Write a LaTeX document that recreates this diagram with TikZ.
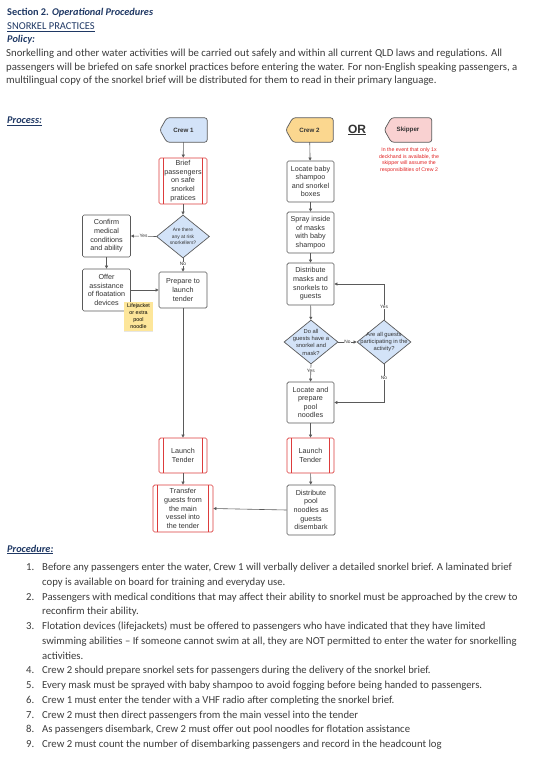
\documentclass[tikz,border=0pt]{standalone}
\usepackage{fontspec}
\setmainfont{Carlito}
\setsansfont{Liberation Sans}
\usetikzlibrary{arrows.meta, shapes.geometric, shadows, backgrounds}

\definecolor{navy}{HTML}{1F3864}
\definecolor{bodygray}{HTML}{3B3B3B}
\definecolor{boxgray}{HTML}{5A5A5A}
\definecolor{boxtext}{HTML}{333333}
\definecolor{procred}{HTML}{DC3C3C}
\definecolor{decblue}{HTML}{D3E3F8}
\definecolor{crewblue}{HTML}{D3E3F8}
\definecolor{crewgold}{HTML}{FBD78F}
\definecolor{skippink}{HTML}{F9D1D1}
\definecolor{stickyyellow}{HTML}{FDE69A}
\definecolor{notered}{HTML}{E02020}

\begin{document}
\begin{tikzpicture}[x=1pt, y=-1pt,
		bodytext/.style={inner sep=0pt, text=bodygray, font=\fontsize{10.7}{13.5}\selectfont},
		heading/.style={inner sep=0pt, text=navy, font=\bfseries\fontsize{10.3}{12}\selectfont},
		box/.style={draw=boxgray, line width=0.7pt, rounded corners=1.5pt, fill=white,
			minimum width=47pt, minimum height=41pt, inner sep=0pt, align=center,
			text=boxtext, font=\sffamily\fontsize{7.2}{8.6}\selectfont},
		procbox/.style={box, draw=procred, path picture={
				\draw[procred, line width=0.7pt]
				([xshift=4.5pt]path picture bounding box.north west) -- ([xshift=4.5pt]path picture bounding box.south west)
				([xshift=-4.5pt]path picture bounding box.north east) -- ([xshift=-4.5pt]path picture bounding box.south east);}},
		decide/.style={diamond, draw=boxgray, line width=0.7pt, fill=decblue, inner sep=0pt,
			minimum width=53pt, minimum height=43pt},
		dtext/.style={text=boxtext, align=center, inner sep=0pt},
		crewtag/.style={minimum width=47pt, minimum height=24pt, inner sep=0pt, text=boxtext,
			font=\sffamily\bfseries\fontsize{6.2}{7}\selectfont},
		flow/.style={draw=boxgray, line width=0.6pt, -{Triangle[length=3pt, width=3pt]}},
		tag/.style={fill=white, inner sep=0.4pt, text=boxtext, font=\sffamily\fontsize{4.8}{5}\selectfont}]
	\useasboundingbox (0,0) rectangle (536,757);

	% --- HEADER ---
	\node[heading, anchor=base west] (sect) at (7,15.5) {Section 2. \textit{Operational Procedures}};
	\node[heading, anchor=base west, font=\fontsize{10.5}{12}\selectfont] (title) at (7,29.3) {\underline{SNORKEL PRACTICES}};
	\node[heading, anchor=base west] (pol) at (7,43) {\textit{Policy:}};
	\foreach \txt [count=\i] in {
		{Snorkelling and other water activities will be carried out safely and within all current QLD laws and regulations. All},
		{passengers will be briefed on safe snorkel practices before entering the water. For non-English speaking passengers, a},
		{multilingual copy of the snorkel brief will be distributed for them to read in their primary language.}} {
		\node[bodytext, anchor=base west, font=\fontsize{10.75}{13.5}\selectfont] (poltxt\i) at (6,{57+13.5*(\i-1)}) {\txt};
	}

	% --- PROCESS ---
	\node[heading, anchor=base west] (proc) at (7,124) {\textit{\underline{Process:}}};

	% Start tags
	\node[crewtag] (c1) at (183.5,130) {Crew 1};
	\node[crewtag] (c2) at (309.5,130) {Crew 2};
	\node[crewtag] (skip) at (408,130) {Skipper};
	\node[text=boxtext, font=\sffamily\bfseries\fontsize{12}{12}\selectfont, inner sep=0pt] (or) at (357,130) {\underline{OR}};
	\node[text=notered, align=center, inner sep=0pt, font=\sffamily\fontsize{5.2}{6.6}\selectfont] (skipnote) at (409,160)
		{In the event that only 1x\\deckhand is available, the\\skipper will assume the\\responsibilities of Crew 2};

	% Crew 1 column
	\node[procbox, minimum width=48pt, minimum height=46pt] (brief) at (183,181) {Brief\\passengers\\on safe\\snorkel\\pratices};
	\node[decide] (risk) at (183,236.5) {};
	\node[dtext, font=\sffamily\fontsize{4.9}{6.3}\selectfont] (risktxt) at (183,236.5) {Are there\\any at risk\\snorkellers?};
	\node[box, minimum width=48pt, minimum height=42pt] (confirm) at (106.5,236) {Confirm\\medical\\conditions\\and ability};
	\node[box, minimum width=48pt, minimum height=42pt] (offer) at (106.5,290) {Offer\\assistance\\of floatation\\devices};
	\node[box, minimum width=48pt, minimum height=36pt] (prep) at (183,290) {Prepare to\\launch\\tender};
	\node[fill=stickyyellow, minimum size=29pt, inner sep=0pt, align=center, text=black,
		font=\sffamily\fontsize{5.4}{7}\selectfont, drop shadow={opacity=0.2, shadow xshift=0pt, shadow yshift=-1.2pt}]
		(sticky) at (138.5,316.5) {Lifejacket\\or extra\\pool\\noodle};
	\node[procbox, minimum width=48pt, minimum height=35pt] (launchA) at (183,455.5) {Launch\\Tender};
	\node[procbox, minimum width=60pt, minimum height=47pt] (transfer) at (183,508.5) {Transfer\\guests from\\the main\\vessel into\\the tender};

	% Crew 2 column
	\node[box] (locbaby) at (310.5,181.5) {Locate baby\\shampoo\\and snorkel\\boxes};
	\node[box] (spray) at (310.5,232.5) {Spray inside\\of masks\\with baby\\shampoo};
	\node[box, minimum height=42pt] (distmask) at (310.5,284) {Distribute\\masks and\\snorkels to\\guests};
	\node[decide, minimum width=54pt, minimum height=44pt] (allgear) at (311,342) {};
	\node[dtext, font=\sffamily\fontsize{5.8}{7.3}\selectfont] (allgeartxt) at (311,342) {Do all\\guests have a\\snorkel and\\mask?};
	\node[decide, minimum width=54pt, minimum height=44pt] (partic) at (384,342) {};
	\node[dtext, font=\sffamily\fontsize{5.8}{7.3}\selectfont] (partictxt) at (384,342) {Are all guests\\participating in the\\activity?};
	\node[box] (locpool) at (310.5,402.5) {Locate and\\prepare\\pool\\noodles};
	\node[procbox, minimum height=35pt] (launchB) at (310.5,455.5) {Launch\\Tender};
	\node[box, minimum width=48pt, minimum height=50pt] (distpool) at (311,510) {Distribute\\pool\\noodles as\\guests\\disembark};

	% Background shapes of the tags
	\begin{scope}[on background layer]
		\foreach \t/\col in {c1/crewblue, c2/crewgold, skip/skippink} {
			\filldraw[fill=\col, draw=boxgray, line width=0.7pt, rounded corners=2.5pt]
				([xshift=7pt]\t.north west) -- (\t.north east) -- (\t.south east) -- ([xshift=7pt]\t.south west) -- (\t.west) -- cycle;
		}
	\end{scope}

	% Connectors
	\draw[flow] (c1) -- (brief);
	\draw[flow] (brief) -- (risk);
	\draw[flow] (risk.west) -- node[tag] (yesA) {Yes} (confirm.east);
	\draw[flow] (risk.south) -- node[tag, pos=0.4] (noA) {No} (prep.north);
	\draw[flow] (confirm) -- (offer);
	\draw[flow] (offer.east) -- (prep.west);
	\draw[flow] (prep) -- (launchA);
	\draw[flow] (launchA) -- (transfer);
	\draw[flow] (c2) -- (locbaby);
	\draw[flow] (locbaby) -- (spray);
	\draw[flow] (spray) -- (distmask);
	\draw[flow] (distmask) -- (allgear);
	\draw[flow] (allgear.east) -- node[tag] (noB) {No} (partic.west);
	\draw[flow] (allgear.south) -- node[tag, pos=0.35] (yesB) {Yes} (locpool.north);
	\draw[flow] (partic.north) |- node[tag, pos=0.18] (yesC) {Yes} (distmask.east);
	\draw[flow] (partic.south) |- node[tag, pos=0.18] (noC) {No} (locpool.east);
	\draw[flow] (locpool) -- (launchB);
	\draw[flow] (launchB) -- (distpool);
	\draw[flow] (distpool.west) -- (transfer.east);

	% --- PROCEDURE ---
	\node[heading, anchor=base west] (procd) at (7,552) {\textit{\underline{Procedure:}}};
	\foreach \n/\row in {1/1, 2/3, 3/5, 4/8, 5/9, 6/10, 7/11, 8/12, 9/13} {
		\node[bodytext, anchor=base west] (num\n) at (26,{570.5+14.75*(\row-1)}) {\n.};
	}
	\foreach \txt [count=\i] in {
		{Before any passengers enter the water, Crew 1 will verbally deliver a detailed snorkel brief. A laminated brief},
		{copy is available on board for training and everyday use.},
		{Passengers with medical conditions that may affect their ability to snorkel must be approached by the crew to},
		{reconfirm their ability.},
		{Flotation devices (lifejackets) must be offered to passengers who have indicated that they have limited},
		{swimming abilities -- If someone cannot swim at all, they are NOT permitted to enter the water for snorkelling},
		{activities.},
		{Crew 2 should prepare snorkel sets for passengers during the delivery of the snorkel brief.},
		{Every mask must be sprayed with baby shampoo to avoid fogging before being handed to passengers.},
		{Crew 1 must enter the tender with a VHF radio after completing the snorkel brief.},
		{Crew 2 must then direct passengers from the main vessel into the tender},
		{As passengers disembark, Crew 2 must offer out pool noodles for flotation assistance},
		{Crew 2 must count the number of disembarking passengers and record in the headcount log}} {
		\node[bodytext, anchor=base west] (line\i) at (42,{570.5+14.75*(\i-1)}) {\txt};
	}
\end{tikzpicture}
\end{document}
